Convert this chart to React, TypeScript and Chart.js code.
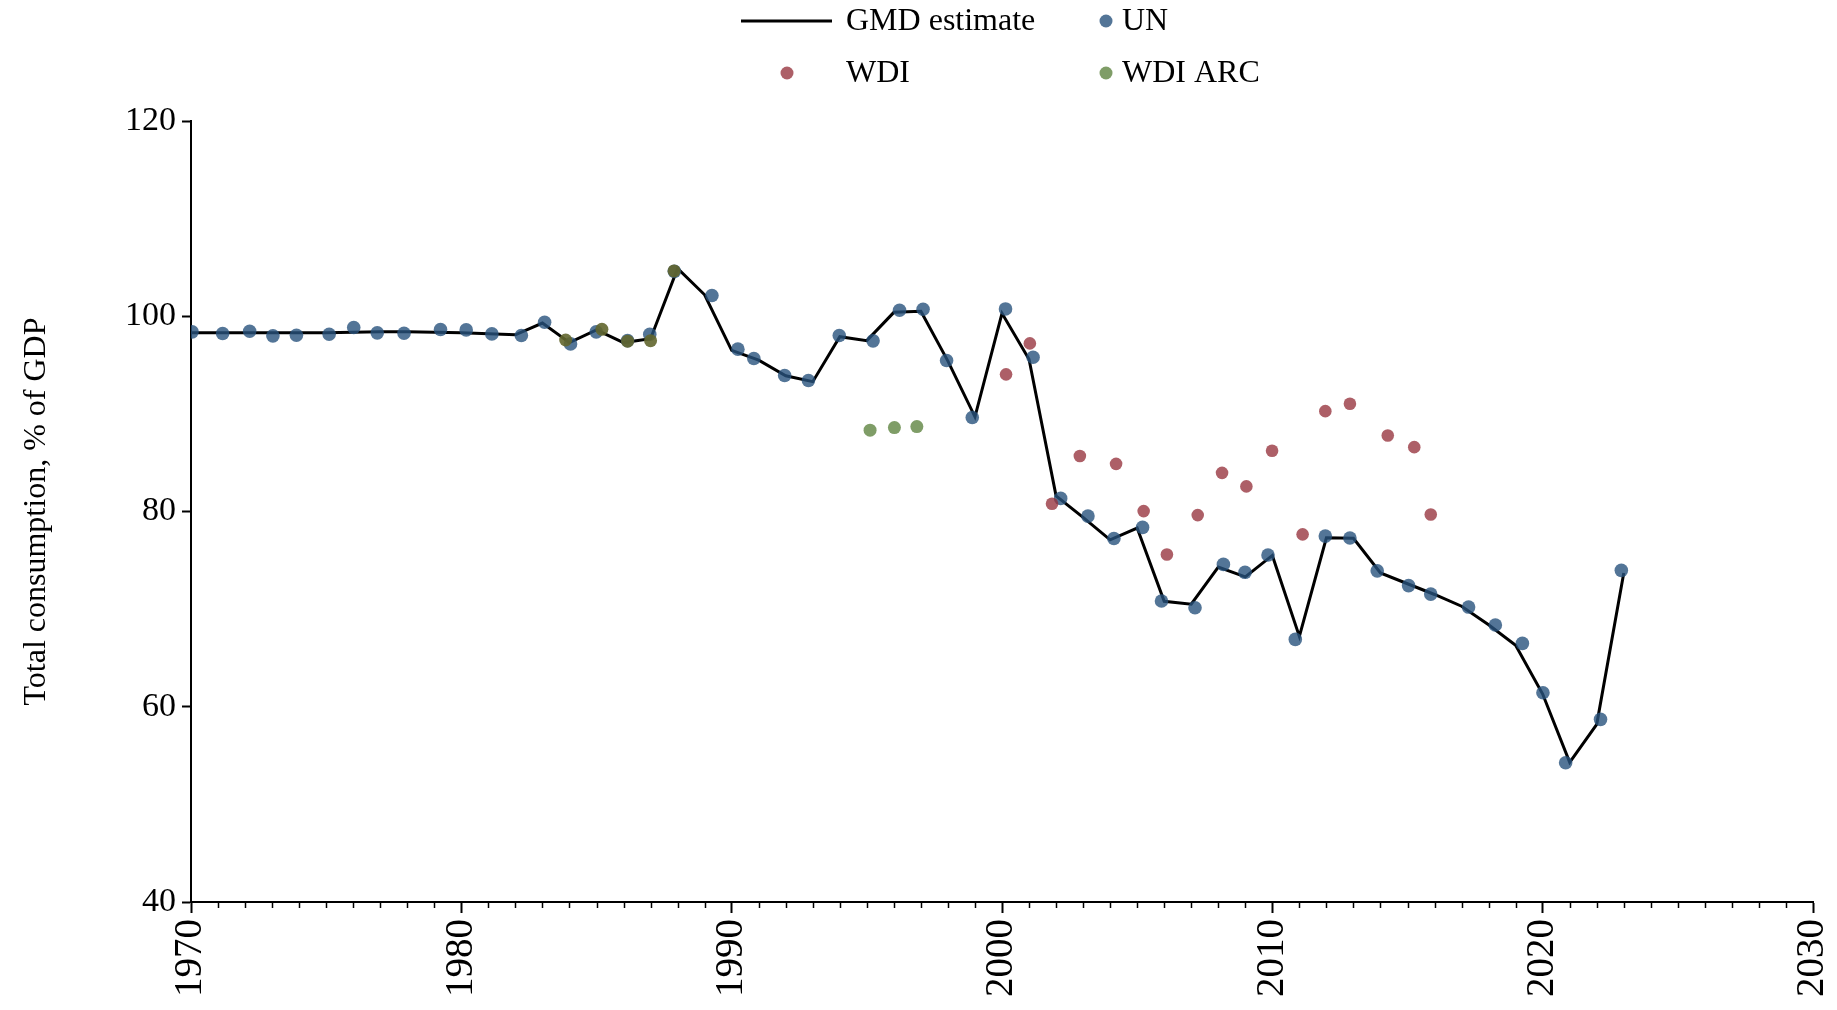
import React, { useEffect, useRef } from 'react';
import { Chart, registerables } from 'chart.js';

Chart.register(...registerables);

const SERIF = '"Liberation Serif", "Times New Roman", Times, serif';

// ---- Data ----
const gmdYears = [
  1970, 1971, 1972, 1973, 1974, 1975, 1976, 1977, 1978, 1979,
  1980, 1981, 1982, 1983, 1984, 1985, 1986, 1987, 1988, 1989,
  1990, 1991, 1992, 1993, 1994, 1995, 1996, 1997, 1998, 1999,
  2000, 2001, 2002, 2003, 2004, 2005, 2006, 2007, 2008, 2009,
  2010, 2011, 2012, 2013, 2014, 2015, 2016, 2017, 2018, 2019,
  2020, 2021, 2022, 2023,
];
const gmdValues = [
  98.3, 98.3, 98.3, 98.3, 98.3, 98.3, 98.35, 98.4, 98.4, 98.35,
  98.3, 98.2, 98.1, 99.3, 97.3, 98.6, 97.3, 97.7, 104.9, 102.2,
  96.5, 95.5, 93.9, 93.3, 97.9, 97.5, 100.4, 100.5, 95.4, 89.7,
  100.3, 95.6, 81.6, 79.4, 77.1, 78.3, 70.8, 70.5, 74.3, 73.3,
  75.5, 67.2, 77.3, 77.25, 73.7, 72.6, 71.5, 70.3, 68.4, 66.3,
  61.3, 54.3, 58.2, 73.7,
];

const unYears = [
  1970.04, 1971.17, 1972.17, 1973.03, 1973.9, 1975.11, 1976.02, 1976.89, 1977.88, 1979.23,
  1980.18, 1981.13, 1982.22, 1983.08, 1984.04, 1984.99, 1986.15, 1986.97, 1987.88, 1989.27,
  1990.23, 1990.82, 1991.96, 1992.84, 1993.98, 1995.23, 1996.21, 1997.08, 1997.95, 1998.9,
  2000.13, 2001.15, 2002.17, 2003.18, 2004.14, 2005.2, 2005.9, 2007.14, 2008.19, 2008.99,
  2009.84, 2010.85, 2011.96, 2012.87, 2013.88, 2015.04, 2015.86, 2017.26, 2018.25, 2019.25,
  2020.01, 2020.85, 2022.14, 2022.91,
];
const unValues = [
  98.4, 98.23, 98.47, 97.99, 98.06, 98.16, 98.85, 98.3, 98.26, 98.64,
  98.6, 98.19, 98.03, 99.39, 97.17, 98.4, 97.5, 98.16, 104.6, 102.12,
  96.63, 95.67, 93.93, 93.42, 98.03, 97.48, 100.62, 100.72, 95.47, 89.63,
  100.75, 95.8, 81.34, 79.53, 77.24, 78.37, 70.83, 70.14, 74.58, 73.77,
  75.54, 66.9, 77.48, 77.28, 73.92, 72.41, 71.54, 70.21, 68.37, 66.49,
  61.44, 54.27, 58.71, 73.97,
];

const wdiYears = [
  2000.15, 2001.03, 2001.85, 2002.88, 2004.22, 2005.24, 2006.1, 2007.24, 2008.14,
  2009.04, 2009.99, 2011.12, 2011.96, 2012.87, 2014.27, 2015.25, 2015.86,
];
const wdiValues = [
  94.05, 97.22, 80.79, 85.68, 84.88, 80.04, 75.6, 79.63, 83.96,
  82.57, 86.22, 77.66, 90.28, 91.03, 87.79, 86.59, 79.7,
];

const arcYears = [1983.86, 1985.2, 1986.15, 1987.0, 1987.87, 1995.12, 1996.02, 1996.85];
const arcValues = [97.57, 98.66, 97.45, 97.5, 104.64, 88.33, 88.6, 88.7];

const xTicks = [1970, 1980, 1990, 2000, 2010, 2020, 2030];
const yTicks = [40, 60, 80, 100, 120];
const seriesLabels = ['GMD estimate', 'UN', 'WDI', 'WDI ARC'];
const yTitle = 'Total consumption, % of GDP';

// ---- Styles ----
const UN_COLOR = 'rgba(40,82,125,0.8)';
const WDI_COLOR = 'rgba(150,50,60,0.78)';
const ARC_COLOR = 'rgba(95,132,65,0.8)';
const ARC_OVER_COLOR = 'rgba(98,102,46,0.9)';

const pts = (xs: number[], ys: number[]) => xs.map((x, i) => ({ x, y: ys[i] }));

export default function App() {
  const ref = useRef<HTMLCanvasElement | null>(null);

  useEffect(() => {
    if (!ref.current) return;

    const legendPlugin = {
      id: 'customLegend',
      afterDraw(chart: any) {
        const ctx = chart.ctx;
        ctx.save();
        ctx.font = `32px ${SERIF}`;
        ctx.fillStyle = '#000';
        ctx.textBaseline = 'middle';
        ctx.textAlign = 'left';
        const row1 = 21;
        const row2 = 73;
        ctx.strokeStyle = '#000';
        ctx.lineWidth = 3;
        ctx.beginPath();
        ctx.moveTo(741, row1);
        ctx.lineTo(832, row1);
        ctx.stroke();
        ctx.fillText(seriesLabels[0], 846, row1 + 1);
        const dot = (x: number, y: number, c: string) => {
          ctx.beginPath();
          ctx.arc(x, y, 6.5, 0, Math.PI * 2);
          ctx.fillStyle = c;
          ctx.fill();
        };
        dot(1106, row1, UN_COLOR);
        ctx.fillStyle = '#000';
        ctx.fillText(seriesLabels[1], 1122, row1 + 1);
        dot(787, row2, WDI_COLOR);
        ctx.fillStyle = '#000';
        ctx.fillText(seriesLabels[2], 846, row2 + 1);
        dot(1106, row2, ARC_COLOR);
        ctx.fillStyle = '#000';
        ctx.fillText(seriesLabels[3], 1122, row2 + 1);
        ctx.restore();
      },
    };

    const minorTicksPlugin = {
      id: 'minorTicks',
      afterDraw(chart: any) {
        const xs = chart.scales.x;
        const ctx = chart.ctx;
        const bottom = chart.chartArea.bottom;
        ctx.save();
        ctx.strokeStyle = '#000';
        ctx.lineWidth = 1.5;
        for (let yr = xTicks[0]; yr <= xTicks[xTicks.length - 1]; yr++) {
          if (xTicks.includes(yr)) continue;
          const px = Math.round(xs.getPixelForValue(yr)) + 0.5;
          ctx.beginPath();
          ctx.moveTo(px, bottom);
          ctx.lineTo(px, bottom + 6);
          ctx.stroke();
        }
        ctx.restore();
      },
    };

    const chart = new Chart(ref.current, {
      type: 'scatter',
      data: {
        datasets: [
          {
            label: seriesLabels[0],
            data: pts(gmdYears, gmdValues),
            showLine: true,
            borderColor: '#000',
            borderWidth: 3,
            pointRadius: 0,
            pointHoverRadius: 0,
            tension: 0,
            order: 4,
          } as any,
          {
            label: seriesLabels[1],
            data: pts(unYears, unValues),
            backgroundColor: UN_COLOR,
            borderWidth: 0,
            pointRadius: 6.8,
            order: 3,
          },
          {
            label: seriesLabels[2],
            data: pts(wdiYears, wdiValues),
            backgroundColor: WDI_COLOR,
            borderWidth: 0,
            pointRadius: 6.3,
            order: 2,
          },
          {
            label: seriesLabels[3],
            data: pts(arcYears, arcValues),
            backgroundColor: (c: any) => {
              const r = c.raw;
              if (!r) return ARC_COLOR;
              const over = unYears.some(
                (x, i) => Math.abs(x - r.x) < 0.6 && Math.abs(unValues[i] - r.y) < 1.5
              );
              return over ? ARC_OVER_COLOR : ARC_COLOR;
            },
            borderWidth: 0,
            pointRadius: 6.5,
            order: 1,
          },
        ],
      },
      options: {
        animation: false,
        responsive: true,
        maintainAspectRatio: false,
        layout: { padding: { top: 121, right: 24, left: 0, bottom: 0 } },
        plugins: {
          legend: { display: false },
          tooltip: { enabled: false },
        },
        scales: {
          x: {
            type: 'linear',
            min: xTicks[0],
            max: xTicks[xTicks.length - 1],
            afterBuildTicks: (s: any) => {
              s.ticks = xTicks.map((v) => ({ value: v }));
            },
            afterFit: (s: any) => {
              s.height = 108;
              s.paddingLeft = 0;
              s.paddingRight = 0;
            },
            grid: {
              drawOnChartArea: false,
              drawTicks: true,
              tickLength: 11,
              tickWidth: 2,
              color: '#000',
            },
            border: { display: true, color: '#000', width: 2 },
            ticks: {
              autoSkip: false,
              minRotation: 90,
              maxRotation: 90,
              padding: 6,
              color: '#000',
              font: { family: SERIF, size: 39 },
              callback: (v: any) => String(v),
            },
          },
          y: {
            type: 'linear',
            min: yTicks[0],
            max: yTicks[yTicks.length - 1],
            afterBuildTicks: (s: any) => {
              s.ticks = yTicks.map((v) => ({ value: v }));
            },
            afterFit: (s: any) => {
              s.width = 191;
              s.paddingTop = 0;
              s.paddingBottom = 0;
            },
            grid: {
              drawOnChartArea: false,
              drawTicks: true,
              tickLength: 9,
              tickWidth: 2,
              color: '#000',
            },
            border: { display: true, color: '#000', width: 2 },
            ticks: {
              padding: 6,
              color: '#000',
              font: { family: SERIF, size: 34 },
              callback: (v: any) => String(v),
            },
            title: {
              display: true,
              text: yTitle,
              color: '#000',
              font: { family: SERIF, size: 32 },
              padding: { top: 17, bottom: 0 },
            },
          },
        },
      },
      plugins: [legendPlugin, minorTicksPlugin],
    });

    return () => chart.destroy();
  }, []);

  return (
    <div
      style={{
        position: 'fixed',
        left: 0,
        top: 0,
        width: '100vw',
        height: '100vh',
        background: '#fff',
      }}
    >
      <canvas ref={ref} />
    </div>
  );
}
